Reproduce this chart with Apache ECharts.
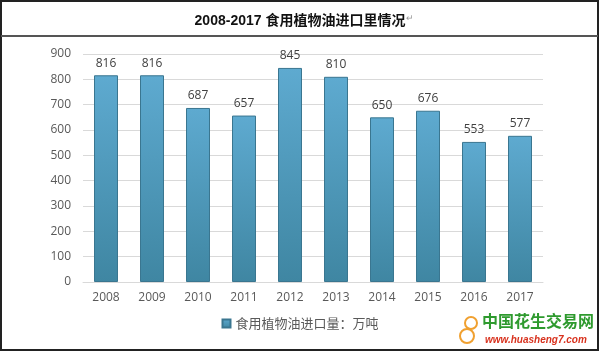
<!DOCTYPE html>
<html>
<head>
<meta charset="utf-8">
<script src="https://cdn.jsdelivr.net/npm/echarts@6/dist/echarts.min.js"></script>
<style>
  html, body { margin: 0; padding: 0; background: #fff; }
  #chart { width: 600px; height: 352px; }
</style>
</head>
<body>
<div id="chart"></div>
<script>
const years = ['2008', '2009', '2010', '2011', '2012', '2013', '2014', '2015', '2016', '2017'];
const imports = [816, 816, 687, 657, 845, 810, 650, 676, 553, 577];
const seriesName = '食用植物油进口量：万吨';
const titleText = '2008-2017 食用植物油进口里情况';

let chart = echarts.init(document.getElementById('chart'));
let font = '"Open Sans", "Noto Sans CJK SC", sans-serif';

let option = {
  animation: false,
  textStyle: { fontFamily: font },
  title: {
    text: titleText,
    left: 'center',
    top: 9,
    textStyle: { fontSize: 14, fontWeight: 'bold', color: '#111', fontFamily: '"Liberation Sans", "Noto Sans CJK SC", sans-serif' }
  },
  legend: {
    bottom: 17,
    left: 'center',
    itemWidth: 8,
    itemHeight: 8,
    icon: 'rect',
    textStyle: { fontSize: 13, color: '#595959', fontFamily: '"Noto Sans CJK SC", sans-serif' },
    data: [seriesName]
  },
  grid: { left: 83, right: 57, top: 54, bottom: 70 },
  xAxis: {
    type: 'category',
    data: years,
    axisTick: { show: false },
    axisLine: { lineStyle: { color: '#d9d9d9' } },
    axisLabel: { color: '#595959', fontSize: 12, margin: 10 }
  },
  yAxis: {
    type: 'value',
    min: 0,
    max: 900,
    interval: 100,
    axisLine: { show: false },
    axisTick: { show: false },
    axisLabel: { color: '#595959', fontSize: 12, margin: 12 },
    splitLine: { lineStyle: { color: '#d9d9d9' } }
  },
  series: [{
    name: seriesName,
    type: 'bar',
    data: imports,
    barWidth: 24,
    itemStyle: {
      color: new echarts.graphic.LinearGradient(0, 0, 0, 1, [
        { offset: 0, color: '#5eaad0' },
        { offset: 1, color: '#3f86a2' }
      ]),
      borderColor: '#3a7690',
      borderWidth: 1
    },
    label: { show: true, position: 'top', distance: 6, color: '#404040', fontSize: 12 }
  }],
  graphic: [
    { type: 'rect', shape: { x: 1, y: 1, width: 597, height: 349 }, style: { fill: 'none', stroke: '#222', lineWidth: 2 } },
    { type: 'line', shape: { x1: 1, y1: 36, x2: 598, y2: 36 }, style: { stroke: '#555', lineWidth: 2 } },
    { type: 'text', left: 406, top: 14, style: { text: '↵', fontSize: 9, fill: '#999' } },
    { type: 'text', left: 482, top: 313, style: { text: '中国花生交易网', fontSize: 16, fontWeight: 'bold', fill: '#2e9a2e', fontFamily: '"Noto Sans CJK SC", sans-serif' } },
    { type: 'text', left: 485, top: 335, style: { text: 'www.huasheng7.com', fontSize: 10, fontWeight: 'bold', fontStyle: 'italic', fill: '#d8321e', fontFamily: '"Liberation Sans", sans-serif' } },
    { type: 'circle', shape: { cx: 471, cy: 323, r: 6 }, style: { fill: 'none', stroke: '#f0a030', lineWidth: 2 } },
    { type: 'circle', shape: { cx: 467, cy: 336, r: 7 }, style: { fill: 'none', stroke: '#f0a030', lineWidth: 2 } }
  ]
};
chart.setOption(option);
</script>
</body>
</html>
